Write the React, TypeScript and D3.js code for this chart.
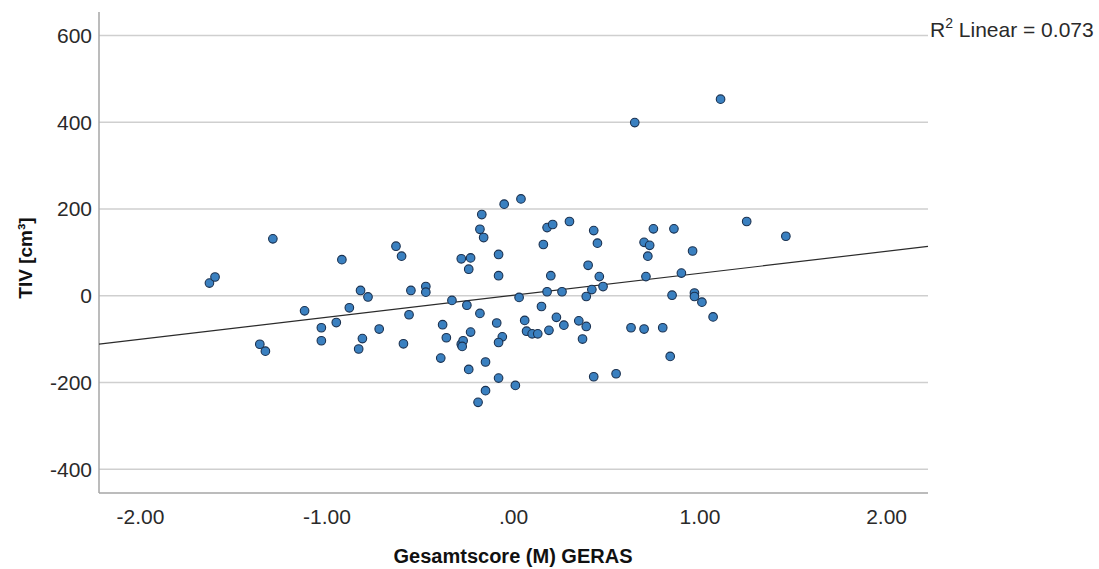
import React from "react";
import * as d3 from "d3";

const gerasScore = [
  -1.63, -1.6, -1.29, -1.36, -1.33, -1.12, -1.03, -1.03, -0.95, -0.92, -0.88, -0.82, -0.78, -0.81, -0.83, -0.72, -0.63, -0.6, -0.55, -0.56, -0.59,
  -0.47, -0.47, -0.33, -0.38, -0.36, -0.39, -0.25, -0.28, -0.23, -0.24, -0.17, -0.18, -0.16, -0.18, -0.23, -0.28, -0.27, -0.275, -0.24, -0.15, -0.15, -0.19, -0.08, -0.08, -0.09, -0.06, -0.08, -0.08, 0.01, -0.05, 0.04, 0.03, 0.06, 0.07, 0.1, 0.13,
  0.15, 0.16, 0.18, 0.18, 0.21, 0.2, 0.19, 0.23, 0.26, 0.27, 0.3, 0.35, 0.39, 0.39, 0.37, 0.4, 0.42, 0.43, 0.45, 0.46, 0.48, 0.43, 0.55, 0.63, 0.65, 0.7, 0.7, 0.73, 0.72, 0.71, 0.75, 0.8, 0.84, 0.85, 0.86, 0.9, 0.96, 0.97, 0.97, 1.01, 1.07, 1.11, 1.25, 1.46,
];

const tivValue = [
  29, 43, 131, -112, -128, -35, -74, -104, -62, 83, -28, 12, -3, -99, -123, -77, 114, 91, 12, -44, -111,
  21, 8, -11, -67, -97, -144, -22, 85, 87, 61, 187, 153, 134, -41, -84, -112, -104, -117, -170, -153, -219, -246, 95, 46, -63, -95, -108, -190, -207, 211, 223, -4, -57, -82, -88, -88,
  -25, 118, 9, 157, 164, 46, -80, -50, 9, -68, 171, -58, -2, -71, -100, 70, 14, 150, 121, 44, 21, -187, -180, -74, 399, -77, 123, 116, 91, 44, 154, -74, -140, 1, 154, 52, 103, 6, -2, -15, -49, 453, 171, 137,
];

const xTicks = [-2, -1, 0, 1, 2];
const xTickLabels = ["-2.00", "-1.00", ".00", "1.00", "2.00"];
const yTicks = [-400, -200, 0, 200, 400, 600];
const yTickLabels = ["-400", "-200", "0", "200", "400", "600"];
const xDomain = [-2.222, 2.222];
const yDomain = [-455, 654];
const xTitle = "Gesamtscore (M) GERAS";
const yTitle = "TIV [cm³]";
const r2Text = " Linear = 0.073";

export default function App() {
  const W = 1099;
  const H = 569;
  const left = 99;
  const right = 928;
  const top = 12;
  const bottom = 493;

  const x = d3.scaleLinear().domain(xDomain).range([left, right]);
  const y = d3.scaleLinear().domain(yDomain).range([bottom, top]);

  const mx = d3.mean(gerasScore) as number;
  const my = d3.mean(tivValue) as number;
  let sxy = 0;
  let sxx = 0;
  gerasScore.forEach((g, i) => {
    sxy += (g - mx) * (tivValue[i] - my);
    sxx += (g - mx) * (g - mx);
  });
  const slope = sxy / sxx;
  const intercept = my - slope * mx;
  const line = d3
    .line<number>()
    .x((d) => x(d))
    .y((d) => y(intercept + slope * d));

  const font = "'Liberation Sans', Arial, sans-serif";

  return (
    <svg
      width={W}
      height={H}
      style={{ position: "fixed", left: 0, top: 0, background: "#fff" }}
      fontFamily={font}
    >
      <rect x={0} y={0} width={W} height={H} fill="#fff" />
      {yTicks.map((t, i) => (
        <g key={t}>
          <line x1={left} x2={right} y1={y(t)} y2={y(t)} stroke="#cfcfcf" strokeWidth={1.5} />
          <text x={92} y={y(t)} dy="0.36em" textAnchor="end" fontSize={21} fill="#2a2a2a">
            {yTickLabels[i]}
          </text>
        </g>
      ))}
      {xTicks.map((t, i) => (
        <text key={t} x={x(t)} y={523.5} textAnchor="middle" fontSize={21} fill="#2a2a2a">
          {xTickLabels[i]}
        </text>
      ))}
      <line x1={left} x2={left} y1={top} y2={bottom} stroke="#a6a6a6" strokeWidth={1.5} />
      <line x1={left} x2={right} y1={bottom} y2={bottom} stroke="#a6a6a6" strokeWidth={1.5} />
      <path d={line(xDomain) || ""} fill="none" stroke="#2b2b2b" strokeWidth={1.2} />
      {gerasScore.map((g, i) => (
        <circle key={i} cx={x(g)} cy={y(tivValue[i])} r={4.3} fill="#3a80c0" stroke="#1a3150" strokeWidth={1.1} />
      ))}
      <text x={930} y={37} fontSize={21} fill="#2a2a2a">
        R<tspan dy={-9} fontSize={14}>2</tspan>
        <tspan dy={9}>{r2Text}</tspan>
      </text>
      <text x={513} y={563} textAnchor="middle" fontSize={20} fontWeight="bold" fill="#111">
        {xTitle}
      </text>
      <text
        transform={`translate(32, 258) rotate(-90)`}
        textAnchor="middle"
        fontSize={19}
        fontWeight="bold"
        fill="#111"
      >
        {yTitle}
      </text>
    </svg>
  );
}
